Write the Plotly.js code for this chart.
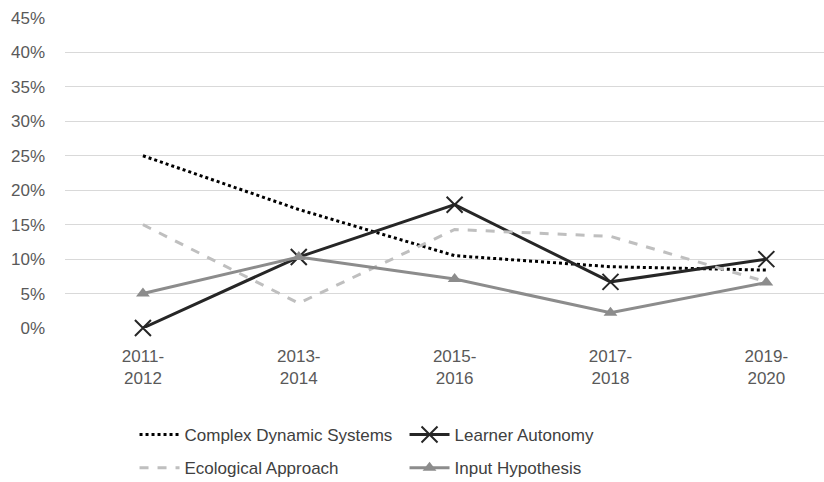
<!DOCTYPE html>
<html>
<head>
<meta charset="utf-8">
<script src="https://cdn.plot.ly/plotly-3.0.1.min.js"></script>
<style>html,body{margin:0;padding:0;background:#fff;}#chart{width:824px;height:482px;}</style>
</head>
<body>
<div id="chart"></div>
<script>
const periods = ["2011-<br>2012", "2013-<br>2014", "2015-<br>2016", "2017-<br>2018", "2019-<br>2020"];
const complexDynamicSystems = [25.0, 17.2, 10.5, 8.9, 8.4];
const learnerAutonomy = [0.0, 10.3, 17.9, 6.7, 10.0];
const ecologicalApproach = [15.0, 3.6, 14.3, 13.3, 6.7];
const inputHypothesis = [5.0, 10.3, 7.1, 2.2, 6.6];
const yTicks = [0, 5, 10, 15, 20, 25, 30, 35, 40, 45];

const font = "Liberation Sans, Arial, sans-serif";
const fs = 17;

const traces = [
  {name: "Complex Dynamic Systems", x: periods, y: complexDynamicSystems, type: "scatter", mode: "lines",
   legend: "legend", cliponaxis: false,
   line: {color: "#000000", width: 3, dash: "dot"}},
  {name: "Learner Autonomy", x: periods, y: learnerAutonomy, type: "scatter", mode: "lines+markers",
   legend: "legend", cliponaxis: false,
   line: {color: "#262626", width: 3},
   marker: {symbol: "x-thin-open", size: 16, color: "#262626", line: {width: 2, color: "#262626"}}},
  {name: "Ecological Approach", x: periods, y: ecologicalApproach, type: "scatter", mode: "lines",
   legend: "legend2", cliponaxis: false,
   line: {color: "#bfbfbf", width: 3, dash: "dash"}},
  {name: "Input Hypothesis", x: periods, y: inputHypothesis, type: "scatter", mode: "lines+markers",
   legend: "legend2", cliponaxis: false,
   line: {color: "#8c8c8c", width: 3},
   marker: {symbol: "triangle-up", size: 12, color: "#8c8c8c"}}
];

const legendBase = {
  orientation: "h",
  x: 0.0916, xanchor: "left",
  yanchor: "middle",
  entrywidth: 215, entrywidthmode: "pixels",
  font: {family: font, size: fs, color: "#404040"},
  itemwidth: 40,
  bgcolor: "rgba(0,0,0,0)"
};

const layout = {
  width: 824, height: 482,
  paper_bgcolor: "#ffffff", plot_bgcolor: "#ffffff",
  margin: {l: 65, r: 0, t: 18, b: 154, autoexpand: false},
  font: {family: font, size: fs, color: "#595959"},
  showlegend: true,
  xaxis: {
    type: "category",
    range: [-0.5, 4.37],
    showgrid: false, zeroline: false, showline: false,
    ticks: "", tickfont: {family: font, size: fs, color: "#595959"},
    ticklabelstandoff: 16, fixedrange: true
  },
  yaxis: {
    range: [0, 45],
    tickvals: yTicks,
    ticktext: yTicks.map(v => v + "%"),
    showgrid: true, gridcolor: "#d9d9d9", gridwidth: 1,
    zeroline: false, showline: false, ticks: "",
    tickfont: {family: font, size: fs, color: "#595959"},
    ticklabelstandoff: 19, fixedrange: true
  },
  legend: Object.assign({}, legendBase, {y: -0.345}),
  legend2: Object.assign({}, legendBase, {y: -0.452})
};

Plotly.newPlot("chart", traces, layout, {displayModeBar: false, staticPlot: true});
</script>
</body>
</html>
